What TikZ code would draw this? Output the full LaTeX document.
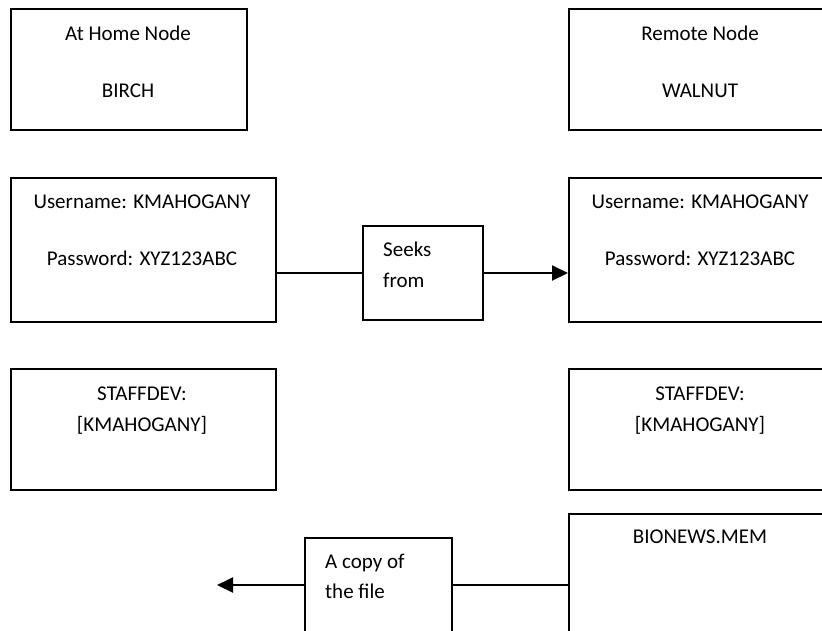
\documentclass[tikz,border=0pt]{standalone}
\usepackage{fontspec}
\setmainfont{Carlito}
\usetikzlibrary{arrows.meta}
\tikzset{
  box/.style={draw=black, line width=2pt, rectangle, inner sep=0pt, anchor=north west},
  txt/.style={anchor=base, inner sep=0pt, font=\fontsize{21}{25}\selectfont},
  ltxt/.style={anchor=base west, inner sep=0pt, font=\fontsize{21}{25}\selectfont},
  conn/.style={line width=2pt},
  arr/.style={line width=2pt, -{Triangle[length=16pt,width=15pt]}}
}
\begin{document}
\begin{tikzpicture}[x=1pt,y=-1pt]
\useasboundingbox (0,0) rectangle (822,630);
\clip (0,0) rectangle (822,630);
% row 1
\node[box, minimum width=236pt, minimum height=121pt] (home) at (10,8) {};
\node[box, minimum width=264pt, minimum height=121pt] (remote) at (568,8) {};
\node[txt] (homet1) at (128,40) {At Home Node};
\node[txt] (homet2) at (128,97) {BIRCH};
\node[txt] (remt1) at (700,40) {Remote Node};
\node[txt] (remt2) at (700,97) {WALNUT};
% row 2
\node[box, minimum width=265pt, minimum height=144pt] (homeuser) at (10,177) {};
\node[box, minimum width=264pt, minimum height=144pt] (remuser) at (568,177) {};
\node[txt] (hu1) at (142,208) {Username: KMAHOGANY};
\node[txt] (hu2) at (142,265) {Password: XYZ123ABC};
\node[txt] (ru1) at (700,208) {Username: KMAHOGANY};
\node[txt] (ru2) at (700,265) {Password: XYZ123ABC};
\node[box, minimum width=120pt, minimum height=94pt] (seeks) at (362,225) {};
\node[ltxt] (seekst1) at (383,256) {Seeks};
\node[ltxt] (seekst2) at (383,287) {from};
\draw[conn] (homeuser.east |- seeks.west) -- (seeks.west);
\draw[arr] (seeks.east) -- (remuser.west |- seeks.east);
% row 3
\node[box, minimum width=265pt, minimum height=121pt] (homestaff) at (10,368) {};
\node[box, minimum width=264pt, minimum height=121pt] (remstaff) at (568,368) {};
\node[txt] (hs1) at (142,400) {STAFFDEV:};
\node[txt] (hs2) at (142,431) {[KMAHOGANY]};
\node[txt] (rs1) at (700,400) {STAFFDEV:};
\node[txt] (rs2) at (700,431) {[KMAHOGANY]};
% row 4
\node[box, minimum width=264pt, minimum height=150pt] (bionews) at (568,513) {};
\node[txt] (bt) at (700,543) {BIONEWS.MEM};
\node[box, minimum width=147pt, minimum height=120pt] (copy) at (304,537) {};
\node[ltxt] (ct1) at (325,568) {A copy of};
\node[ltxt] (ct2) at (325,598) {the file};
\coordinate (tip) at (217,585);
\draw[conn] (bionews.west |- tip) -- (copy.east |- tip);
\draw[arr] (copy.west |- tip) -- (tip);
\end{tikzpicture}
\end{document}
